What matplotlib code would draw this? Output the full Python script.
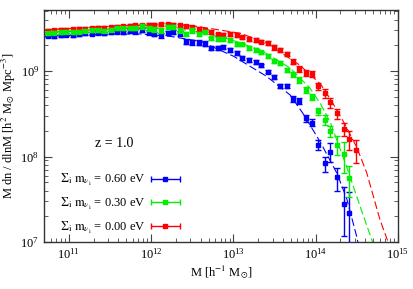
import numpy as np
import matplotlib
matplotlib.use("Agg")
import matplotlib.pyplot as plt
from matplotlib.container import ErrorbarContainer
from matplotlib.legend_handler import HandlerErrorbar

plt.rcParams['font.family'] = ['Liberation Serif', 'DejaVu Serif']
plt.rcParams['mathtext.fontset'] = 'stix'

# log10 of halo mass bin centres [h^-1 Msun]
logM = [10.75, 10.82, 10.90, 10.97, 11.05, 11.13, 11.20, 11.28, 11.36, 11.43,
        11.51, 11.59, 11.66, 11.74, 11.81, 11.89, 11.97, 12.04, 12.12, 12.20,
        12.27, 12.35, 12.43, 12.50, 12.58, 12.66, 12.73, 12.81, 12.88, 12.96,
        13.04, 13.11, 13.19, 13.27, 13.34, 13.42, 13.50, 13.57, 13.65, 13.72,
        13.80, 13.88, 13.95, 14.03, 14.11, 14.18, 14.26, 14.34, 14.41, 14.49]

# simulation mass functions (units of 1e9)
mf_000 = [2.96, 3.00, 3.04, 3.04, 3.08, 3.12, 3.12, 3.16, 3.21, 3.21,
          3.25, 3.30, 3.34, 3.39, 3.43, 3.43, 3.48, 3.48, 3.52, 3.52,
          3.48, 3.43, 3.34, 3.25, 3.12, 3.00, 2.88, 2.70, 2.66, 2.73,
          2.65, 2.49, 2.38, 2.32, 2.22, 2.12, 1.90, 1.76, 1.60, 1.29,
          1.06, 0.96, 0.92, 0.67, 0.55, 0.43, 0.32, 0.21, 0.16, 0.121]
mf_030 = [2.77, 2.81, 2.84, 2.88, 2.84, 2.88, 2.96, 3.00, 3.00, 2.96,
          3.04, 3.16, 3.16, 3.16, 3.21, 3.34, 3.16, 3.08, 3.00, 3.30,
          3.30, 3.00, 2.73, 3.00, 2.73, 2.88, 2.42, 2.39, 2.38, 2.30,
          2.10, 2.06, 1.87, 1.77, 1.66, 1.52, 1.31, 1.24, 1.03, 0.92,
          0.79, 0.60, 0.50, 0.34, 0.27, 0.20, 0.138, 0.106, 0.056]
mf_060 = [2.59, 2.55, 2.62, 2.66, 2.62, 2.70, 2.77, 2.73, 2.81, 2.77,
          2.84, 2.88, 2.84, 2.96, 2.92, 3.04, 2.84, 2.73, 2.62, 2.81,
          2.88, 2.77, 2.21, 2.18, 2.15, 2.10, 1.87, 1.87, 1.92, 1.78,
          1.63, 1.44, 1.36, 1.27, 1.17, 0.99, 0.86, 0.67, 0.67, 0.47,
          0.45, 0.28, 0.25, 0.138, 0.083, 0.114, 0.057, 0.028, 0.022]

# relative (1-sigma) errors
err_000 = [0.04, 0.04, 0.04, 0.04, 0.04, 0.04, 0.04, 0.04, 0.04, 0.04,
           0.04, 0.04, 0.04, 0.04, 0.05, 0.05, 0.05, 0.05, 0.05, 0.05,
           0.05, 0.05, 0.05, 0.05, 0.05, 0.05, 0.05, 0.05, 0.05, 0.05,
           0.05, 0.05, 0.05, 0.05, 0.05, 0.05, 0.06, 0.06, 0.06, 0.07,
           0.07, 0.08, 0.08, 0.09, 0.11, 0.13, 0.13, 0.18, 0.25, 0.30]
err_030 = [0.04, 0.04, 0.04, 0.04, 0.04, 0.04, 0.04, 0.04, 0.04, 0.04,
           0.04, 0.04, 0.04, 0.04, 0.06, 0.06, 0.06, 0.06, 0.06, 0.06,
           0.06, 0.06, 0.06, 0.06, 0.06, 0.06, 0.05, 0.05, 0.05, 0.05,
           0.05, 0.05, 0.05, 0.05, 0.05, 0.05, 0.06, 0.06, 0.06, 0.07,
           0.07, 0.08, 0.09, 0.10, 0.13, 0.15, 0.25, 0.40, 0.40]
err_060 = [0.04, 0.04, 0.04, 0.04, 0.04, 0.04, 0.04, 0.04, 0.04, 0.04,
           0.04, 0.04, 0.04, 0.04, 0.06, 0.06, 0.06, 0.06, 0.06, 0.06,
           0.06, 0.06, 0.07, 0.07, 0.07, 0.06, 0.05, 0.05, 0.05, 0.05,
           0.05, 0.05, 0.05, 0.05, 0.05, 0.05, 0.06, 0.06, 0.06, 0.08,
           0.08, 0.09, 0.09, 0.13, 0.20, 0.25, 0.30, 0.58, 0.75]

# theoretical predictions (dashed), log10 M and values in units of 1e9
th_logM_000 = [10.71, 11.15, 11.63, 12.12, 12.48, 12.72, 13.09, 13.41, 13.81,
               14.06, 14.21, 14.36, 14.50, 14.62, 14.78, 14.88, 14.95]
th_000 = [3.04, 3.21, 3.39, 3.48, 3.43, 3.16, 2.77, 2.12, 1.17,
          0.706, 0.42, 0.235, 0.128, 0.065, 0.0185, 0.0100, 0.0070]
th_logM_030 = [10.71, 11.39, 11.99, 12.36, 12.60, 12.96, 13.33, 13.69, 13.93,
               14.06, 14.18, 14.38, 14.54, 14.70, 14.75]
th_030 = [2.84, 3.08, 3.21, 3.08, 2.84, 2.36, 1.76, 1.09, 0.635,
          0.414, 0.249, 0.0746, 0.0262, 0.0095, 0.0070]
th_logM_060 = [10.71, 11.39, 11.87, 12.24, 12.60, 13.00, 13.40, 13.69, 13.85,
               14.06, 14.26, 14.38, 14.50, 14.56]
th_060 = [2.55, 2.70, 2.73, 2.55, 2.23, 1.50, 0.875, 0.526, 0.316,
          0.146, 0.0635, 0.0316, 0.0115, 0.0060]

labels = [r'$\Sigma_{\rm i}\ {\rm m}_{\nu_{\rm i}}$ = 0.60 eV',
          r'$\Sigma_{\rm i}\ {\rm m}_{\nu_{\rm i}}$ = 0.30 eV',
          r'$\Sigma_{\rm i}\ {\rm m}_{\nu_{\rm i}}$ = 0.00 eV']
colors = ['#0000ff', '#00ee00', '#ff0000']

fig = plt.figure(figsize=(4.13, 2.89), dpi=100)
ax = fig.add_axes([0.1065, 0.1626, 0.857, 0.8028])

series = [(mf_060, err_060, th_logM_060, th_060),
          (mf_030, err_030, th_logM_030, th_030),
          (mf_000, err_000, th_logM_000, th_000)]
zorders = [4, 5, 3]
handles = []
for (mf, err, tlm, tv), c, lab, z in zip(series, colors, labels, zorders):
    n = len(mf)
    m = 10 ** np.array(logM[:n])
    y = np.array(mf) * 1e9
    e = y * np.array(err)
    lo = np.minimum(e, y * 0.999)
    ax.plot(10 ** np.array(tlm), np.array(tv) * 1e9, ls=(0, (7, 3)), lw=0.8,
            color=c, zorder=2)
    ax.errorbar(m, y, yerr=[lo, e], fmt='s', ms=3.5, color=c, mec=c,
                elinewidth=1.0, capsize=2.0, capthick=1.0, zorder=z)
    # legend proxy with horizontal bar
    h = ax.errorbar([np.nan], [np.nan], xerr=[1.0], fmt='s', ms=3.0, color=c,
                    mec=c, elinewidth=1.0, capsize=2.0, capthick=1.0,
                    label=lab)
    handles.append(h)

ax.set_xscale('log')
ax.set_yscale('log')
ax.set_xlim(5e10, 1e15)
ax.set_ylim(1e7, 5.2e9)

ax.tick_params(which='both', direction='in', top=True, right=True,
               labelsize=9, color='#444444')
ax.tick_params(which='major', length=6, width=0.8)
ax.tick_params(which='minor', length=3, width=0.6)
for s in ax.spines.values():
    s.set_linewidth(1.0)
    s.set_color('#333333')

ax.set_xlabel(r'M [h$^{-1}$ M$_{\odot}$]', fontsize=9, labelpad=1)
ax.set_ylabel(r'M dn / dlnM [h$^{2}$ M$_{\odot}$ Mpc$^{-3}$]', fontsize=9,
              labelpad=2)

ax.text(0.197, 0.425, 'z = 1.0', transform=ax.transAxes, fontsize=10,
        ha='center', va='center')

leg = ax.legend(handles=handles, loc='lower left',
                bbox_to_anchor=(0.025, -0.005), frameon=False, fontsize=9,
                markerfirst=False, handlelength=2.3, handletextpad=0.4,
                labelspacing=0.62, borderaxespad=0.2,
                handler_map={ErrorbarContainer: HandlerErrorbar(xerr_size=1.15)})

fig.savefig('out.png', dpi=100)
